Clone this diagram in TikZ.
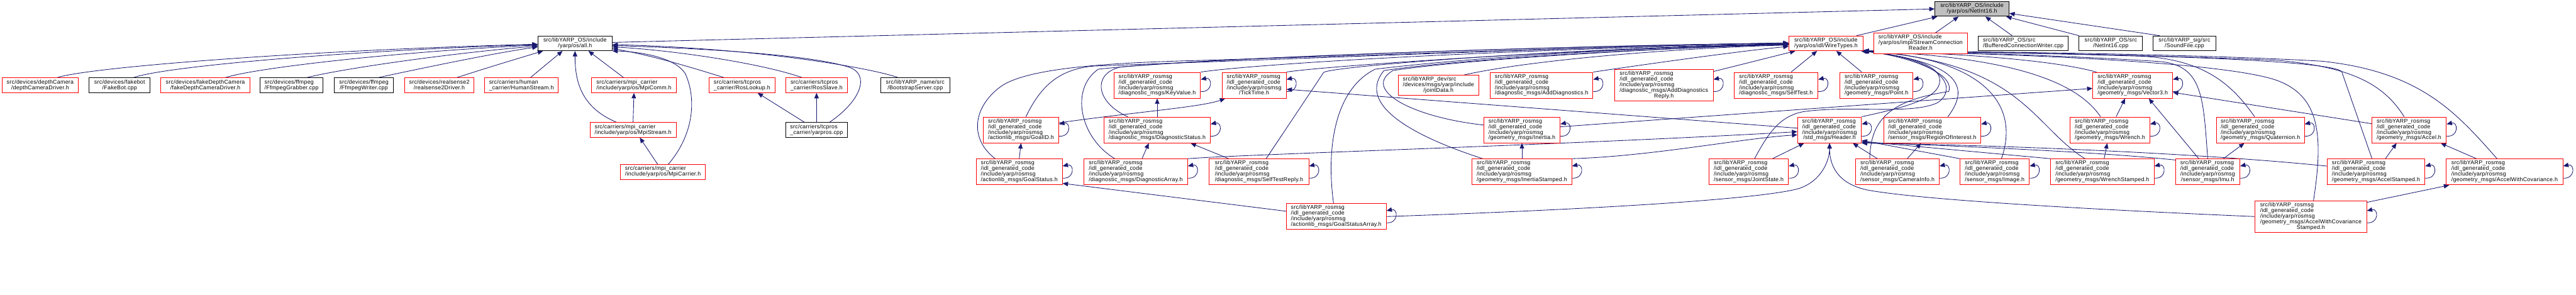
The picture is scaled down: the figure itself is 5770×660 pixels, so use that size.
\documentclass[tikz,border=0pt]{standalone}
\usepackage{fontspec}
\setmainfont{Liberation Sans}[LetterSpace=3]
\usetikzlibrary{arrows.meta, backgrounds}
\definecolor{edgeblue}{HTML}{191970}
\definecolor{nodegray}{HTML}{BFBFBF}
% last line centred, the others flush left
\newcommand{\flines}[2]{\begin{tabular}{@{}l@{}}#1\\\multicolumn{1}{@{}c@{}}{#2}\end{tabular}}
\newcommand{\rosmsg}[1]{\flines{src/libYARP\_rosmsg\\/idl\_generated\_code\\/include/yarp/rosmsg}{#1}}

\begin{document}
\begin{tikzpicture}[x=1pt, y=-1pt,
	redbox/.style={draw=red, line width=1.3pt, fill=white, inner xsep=0pt, inner ysep=4pt, font=\fontsize{12.5}{11.5}\selectfont},
	blackbox/.style={redbox, draw=black},
	graybox/.style={redbox, draw=black, fill=nodegray},
	incl/.style={edgeblue, line width=1.2pt, -{Triangle[length=12pt, width=10pt]}}]
	\useasboundingbox (0,0) rectangle (5770,660);
	
	% Draw the file that is included
	\node[graybox, minimum width=166] (n16h) at (4417,20) {\flines{src/libYARP\_OS/include}{/yarp/os/NetInt16.h}};
	
	% Draw the first row
	\node[blackbox, minimum width=166] (allh) at (1288,97) {\flines{src/libYARP\_OS/include}{/yarp/os/all.h}};
	\node[redbox, minimum width=166] (wire) at (4090,97) {\flines{src/libYARP\_OS/include}{/yarp/os/idl/WireTypes.h}};
	\node[redbox, minimum width=209] (scr) at (4302,97) {\flines{src/libYARP\_OS/include\\/yarp/os/impl/StreamConnection}{Reader.h}};
	\node[blackbox, minimum width=202] (bcw) at (4532,97) {\flines{src/libYARP\_OS/src}{/BufferedConnectionWriter.cpp}};
	\node[blackbox, minimum width=142] (n16cpp) at (4728,97) {\flines{src/libYARP\_OS/src}{/NetInt16.cpp}};
	\node[blackbox, minimum width=140] (sound) at (4893,97) {\flines{src/libYARP\_sig/src}{/SoundFile.cpp}};
	
	% Draw the second row
	\node[redbox, minimum width=171] (depth) at (90,191) {\flines{src/devices/depthCamera}{/depthCameraDriver.h}};
	\node[blackbox, minimum width=137] (fakebot) at (268,191) {\flines{src/devices/fakebot}{/FakeBot.cpp}};
	\node[redbox, minimum width=199] (fakedepth) at (460,191) {\flines{src/devices/fakeDepthCamera}{/fakeDepthCameraDriver.h}};
	\node[blackbox, minimum width=142] (grabber) at (653,191) {\flines{src/devices/ffmpeg}{/FfmpegGrabber.cpp}};
	\node[blackbox, minimum width=133] (writer) at (815,191) {\flines{src/devices/ffmpeg}{/FfmpegWriter.cpp}};
	\node[redbox, minimum width=156] (rs2) at (984,191) {\flines{src/devices/realsense2}{/realsense2Driver.h}};
	\node[redbox, minimum width=165] (human) at (1168,191) {\flines{src/carriers/human}{\_carrier/HumanStream.h}};
	\node[redbox, minimum width=190] (mpicomm) at (1420,191) {\flines{src/carriers/mpi\_carrier}{/include/yarp/os/MpiComm.h}};
	\node[redbox, minimum width=147] (roslookup) at (1662,191) {\flines{src/carriers/tcpros}{\_carrier/RosLookup.h}};
	\node[redbox, minimum width=138] (rosslave) at (1829,191) {\flines{src/carriers/tcpros}{\_carrier/RosSlave.h}};
	\node[blackbox, minimum width=155] (bootstrap) at (2050,191) {\flines{src/libYARP\_name/src}{/BootstrapServer.cpp}};
	\node[redbox, minimum width=194] (keyvalue) at (2592,191) {\rosmsg{/diagnostic\_msgs/KeyValue.h}};
	\node[redbox, minimum width=144] (ticktime) at (2809,191) {\rosmsg{/TickTime.h}};
	\node[redbox, minimum width=181] (jointdata) at (3222,191) {\flines{src/libYARP\_dev/src\\/devices/msgs/yarp/include}{/jointData.h}};
	\node[redbox, minimum width=230] (adddiag) at (3453,191) {\rosmsg{/diagnostic\_msgs/AddDiagnostics.h}};
	\node[redbox, minimum width=221] (adddiagrep) at (3727,191) {\flines{src/libYARP\_rosmsg\\/idl\_generated\_code\\/include/yarp/rosmsg\\/diagnostic\_msgs/AddDiagnostics}{Reply.h}};
	\node[redbox, minimum width=188] (selftest) at (3978,191) {\rosmsg{/diagnostic\_msgs/SelfTest.h}};
	\node[redbox, minimum width=164] (point) at (4203,191) {\rosmsg{/geometry\_msgs/Point.h}};
	\node[redbox, minimum width=179] (vector3) at (4777,191) {\rosmsg{/geometry\_msgs/Vector3.h}};
	
	% Draw the third row
	\node[redbox, minimum width=193] (mpistream) at (1418,291) {\flines{src/carriers/mpi\_carrier}{/include/yarp/os/MpiStream.h}};
	\node[blackbox, minimum width=138] (yarpros) at (1829,291) {\flines{src/carriers/tcpros}{\_carrier/yarpros.cpp}};
	\node[redbox, minimum width=169] (goalid) at (2287,291) {\rosmsg{/actionlib\_msgs/GoalID.h}};
	\node[redbox, minimum width=238] (diagstatus) at (2592,291) {\rosmsg{/diagnostic\_msgs/DiagnosticStatus.h}};
	\node[redbox, minimum width=171] (inertia) at (3409,291) {\rosmsg{/geometry\_msgs/Inertia.h}};
	\node[redbox, minimum width=143] (header) at (4098,291) {\rosmsg{/std\_msgs/Header.h}};
	\node[redbox, minimum width=218] (roi) at (4328,291) {\rosmsg{/sensor\_msgs/RegionOfInterest.h}};
	\node[redbox, minimum width=179] (wrench) at (4726,291) {\rosmsg{/geometry\_msgs/Wrench.h}};
	\node[redbox, minimum width=197] (quat) at (5063,291) {\rosmsg{/geometry\_msgs/Quaternion.h}};
	\node[redbox, minimum width=167] (accel) at (5396,291) {\rosmsg{/geometry\_msgs/Accel.h}};
	
	% Draw the fourth row
	\node[redbox, minimum width=190] (mpicarrier) at (1485,385) {\flines{src/carriers/mpi\_carrier}{/include/yarp/os/MpiCarrier.h}};
	\node[redbox, minimum width=193] (goalstatus) at (2283,385) {\rosmsg{/actionlib\_msgs/GoalStatus.h}};
	\node[redbox, minimum width=232] (diagarray) at (2544,385) {\rosmsg{/diagnostic\_msgs/DiagnosticArray.h}};
	\node[redbox, minimum width=223] (selftestrep) at (2820,385) {\rosmsg{/diagnostic\_msgs/SelfTestReply.h}};
	\node[redbox, minimum width=223] (inertiast) at (3409,385) {\rosmsg{/geometry\_msgs/InertiaStamped.h}};
	\node[redbox, minimum width=178] (jointstate) at (3917,385) {\rosmsg{/sensor\_msgs/JointState.h}};
	\node[redbox, minimum width=187] (camerainfo) at (4250,385) {\rosmsg{/sensor\_msgs/CameraInfo.h}};
	\node[redbox, minimum width=155] (image) at (4468,385) {\rosmsg{/sensor\_msgs/Image.h}};
	\node[redbox, minimum width=232] (wrenchst) at (4709,385) {\rosmsg{/geometry\_msgs/WrenchStamped.h}};
	\node[redbox, minimum width=144] (imu) at (4945,385) {\rosmsg{/sensor\_msgs/Imu.h}};
	\node[redbox, minimum width=219] (accelst) at (5322,385) {\rosmsg{/geometry\_msgs/AccelStamped.h}};
	\node[redbox, minimum width=261] (accelcov) at (5610,385) {\rosmsg{/geometry\_msgs/AccelWithCovariance.h}};
	
	% Draw the last row
	\node[redbox, minimum width=224] (goalarr) at (2993,485) {\rosmsg{/actionlib\_msgs/GoalStatusArray.h}};
	\node[redbox, minimum width=250] (accelcovst) at (5176,485) {\flines{src/libYARP\_rosmsg\\/idl\_generated\_code\\/include/yarp/rosmsg\\/geometry\_msgs/AccelWithCovariance}{Stamped.h}};
	
	\begin{scope}[on background layer]
		% Draw the includes of NetInt16.h
		\draw[incl] ([yshift=2pt]allh.east) -- (n16h.west);
		\draw[incl] ([xshift=-15pt]wire.north east) -- ([xshift=6pt]n16h.south west);
		\draw[incl] ([xshift=33pt]scr.north) -- ([xshift=-30pt]n16h.south);
		\draw[incl] ([xshift=-25pt]bcw.north) -- ([xshift=30pt]n16h.south);
		\draw[incl] (n16cpp.north west) -- ([xshift=-7pt]n16h.south east);
		\draw[incl] ([xshift=15pt]sound.north west) -- ([yshift=-10pt]n16h.east);
		
		% Draw the includes of all.h
		\draw[incl] ([xshift=38pt]depth.north) .. controls (200,150) and (700,112) .. ([yshift=-2pt]allh.west);
		\draw[incl] ([xshift=31pt]fakebot.north) .. controls (370,148) and (800,112) .. ([yshift=-3pt]allh.west);
		\draw[incl] ([xshift=45pt]fakedepth.north) .. controls (570,152) and (900,115) .. ([yshift=-4pt]allh.west);
		\draw[incl] ([xshift=34pt]grabber.north) .. controls (760,155) and (1000,120) .. ([yshift=-6pt]allh.west);
		\draw[incl] ([xshift=32pt]writer.north) .. controls (920,158) and (1100,120) .. ([yshift=-8pt]allh.west);
		\draw[incl] ([xshift=39pt]rs2.north) .. controls (1090,152) and (1170,128) .. ([xshift=12pt]allh.south west);
		\draw[incl] ([xshift=20pt]human.north) -- ([xshift=-28pt]allh.south);
		\draw[incl] ([xshift=-23pt]mpicomm.north) -- ([xshift=30pt]allh.south);
		\draw[incl] ([xshift=-37pt]mpistream.north) .. controls (1300,240) and (1288,180) .. (allh.south);
		\draw[incl] ([xshift=12pt]mpicarrier.north) .. controls (1555,300) and (1560,220) .. (1535,165) .. controls (1510,125) and (1420,115) .. (allh.south east);
		\draw[incl] ([xshift=-40pt]roslookup.north) .. controls (1540,148) and (1450,122) .. ([yshift=-12pt]allh.east);
		\draw[incl] ([xshift=-32pt]rosslave.north) .. controls (1700,140) and (1500,112) .. ([yshift=-8pt]allh.east);
		\draw[incl] ([xshift=29pt]yarpros.north) .. controls (1930,225) and (1950,165) .. (1900,150) .. controls (1800,118) and (1500,106) .. ([yshift=-5pt]allh.east);
		\draw[incl] ([xshift=-38pt]bootstrap.north) .. controls (1950,152) and (1700,108) .. ([yshift=-3pt]allh.east);
		\draw[incl] (mpistream.north) -- (mpicomm.south);
		\draw[incl] ([xshift=-12pt]mpicarrier.north) -- ([xshift=15pt]mpistream.south);
		\draw[incl] ([xshift=-27pt]yarpros.north) -- ([xshift=35pt]roslookup.south);
		\draw[incl] (yarpros.north) -- (rosslave.south);
		
		% Draw the includes of WireTypes.h, from the left
		\draw[incl] ([xshift=11pt]goalid.north) .. controls (2330,195) and (2370,155) .. (2450,148) .. controls (3000,128) and (3700,100) .. ([yshift=1pt]wire.west);
		\draw[incl] ([xshift=-54pt]goalstatus.north) .. controls (2170,310) and (2180,240) .. (2240,195) .. controls (2300,150) and (2500,140) .. (2700,135) .. controls (3200,120) and (3700,100) .. (wire.west);
		\draw[incl] (keyvalue.north east) .. controls (2800,145) and (3300,112) .. ([yshift=-1pt]wire.west);
		\draw[incl] ([xshift=-66pt]diagstatus.north) .. controls (2455,230) and (2445,165) .. (2510,150) .. controls (2800,125) and (3600,100) .. (wire.west);
		\draw[incl] ([xshift=-47pt]diagarray.north) .. controls (2420,310) and (2395,200) .. (2460,155) .. controls (2700,128) and (3600,100) .. (wire.west);
		\draw[incl] (ticktime.north east) .. controls (2950,150) and (3500,110) .. ([yshift=-2pt]wire.west);
		\draw[incl] ([xshift=16pt]selftestrep.north) -- (2965,162) .. controls (2990,148) and (3500,108) .. ([yshift=-2pt]wire.west);
		\draw[incl] ([xshift=-6pt]goalarr.north) .. controls (2970,330) and (2990,200) .. (3080,155) .. controls (3300,128) and (3700,104) .. ([yshift=-3pt]wire.west);
		\draw[incl] ([xshift=58pt]jointdata.north) .. controls (3450,130) and (3800,106) .. ([yshift=-4pt]wire.west);
		\draw[incl] (adddiag.north east) .. controls (3700,142) and (3900,114) .. ([yshift=-7pt]wire.west);
		\draw[incl] ([yshift=-5pt]adddiagrep.north east) -- ([xshift=15pt]wire.south west);
		\draw[incl] ([yshift=11pt]inertia.west) .. controls (3160,262) and (3050,200) .. (3120,158) .. controls (3300,130) and (3800,104) .. ([yshift=-3pt]wire.west);
		\draw[incl] ([xshift=-88pt]inertiast.north) .. controls (3150,300) and (3040,230) .. (3100,158) .. controls (3300,128) and (3800,104) .. ([yshift=-3pt]wire.west);
		\draw[incl] ([xshift=34pt]selftest.north) -- ([xshift=-20pt]wire.south);
		\draw[incl] ([xshift=-33pt]point.north) -- ([xshift=23pt]wire.south);
		
		% Draw the includes of WireTypes.h, from the right
		\draw[incl] (header.north east) .. controls (4270,240) and (4345,220) .. (4345,180) .. controls (4345,140) and (4250,122) .. ([xshift=-4pt]wire.south east);
		\draw[incl] ([xshift=-62pt]camerainfo.north) .. controls (4190,270) and (4230,225) .. (4365,205) .. controls (4380,160) and (4260,124) .. ([xshift=-2pt]wire.south east);
		\draw[incl] ([xshift=13pt]jointstate.north) .. controls (3960,300) and (3985,260) .. (4040,250) .. controls (4150,235) and (4280,258) .. (4340,230) .. controls (4385,200) and (4360,135) .. (wire.south east);
		\draw[incl] ([xshift=35pt]roi.north) .. controls (4410,200) and (4400,140) .. ([xshift=-5pt]wire.south east);
		\draw[incl] ([xshift=15pt]image.north) .. controls (4530,220) and (4420,128) .. ([xshift=-2pt]wire.south east);
		\draw[incl] ([xshift=-39pt]wrenchst.north) .. controls (4550,280) and (4530,140) .. ([xshift=-1pt]wire.south east);
		\draw[incl] ([xshift=-21pt]wrench.north) .. controls (4650,180) and (4500,128) .. (wire.south east);
		\draw[incl] ([xshift=9pt]vector3.north west) .. controls (4600,135) and (4400,120) .. (wire.south east);
		\draw[incl] (imu.north) .. controls (4935,220) and (4935,148) .. (4840,138) .. controls (4600,122) and (4300,116) .. (wire.south east);
		\draw[incl] ([xshift=-13pt]quat.north) .. controls (5000,190) and (4940,135) .. (4800,126) .. controls (4550,118) and (4300,115) .. (wire.south east);
		\draw[incl] ([xshift=6pt]accelcovst.north) .. controls (5205,300) and (5195,215) .. (5100,180) .. controls (4980,138) and (4500,120) .. (wire.south east);
		\draw[incl] ([xshift=-9pt]accelst.north) -- (5245,160) .. controls (5215,135) and (4800,120) .. (wire.south east);
		\draw[incl] ([xshift=-11pt]accel.north) .. controls (5340,190) and (5270,150) .. (5100,135) .. controls (4800,122) and (4400,116) .. (wire.south east);
		\draw[incl] ([xshift=-17pt]accelcov.north) .. controls (5500,250) and (5420,160) .. (5200,137) .. controls (4900,120) and (4400,115) .. (wire.south east);
		
		% Draw the includes of Header.h
		\draw[incl] (goalarr.east) .. controls (3600,468) and (3950,445) .. (4030,422) .. controls (4080,405) and (4098,360) .. (header.south);
		\draw[incl] (accelcovst.west) .. controls (4700,470) and (4300,448) .. (4180,425) .. controls (4115,410) and (4098,370) .. (header.south);
		\draw[incl] (diagarray.north east) .. controls (2800,345) and (3500,325) .. ([yshift=-4pt]header.west);
		\draw[incl] (inertiast.north east) .. controls (3700,350) and (3900,310) .. ([yshift=-11pt]header.west);
		\draw[incl] ([xshift=53pt]jointstate.north) -- ([xshift=-57pt]header.south);
		\draw[incl] ([xshift=-45pt]camerainfo.north) -- ([xshift=52pt]header.south);
		\draw[incl] (image.north west) -- ([yshift=6pt]header.south east);
		\draw[incl] (wrenchst.north west) -- ([yshift=4pt]header.south east);
		\draw[incl] ([yshift=-3pt]imu.north west) .. controls (4700,340) and (4400,328) .. ([yshift=2pt]header.south east);
		\draw[incl] ([yshift=13pt]accelst.west) .. controls (4950,345) and (4500,325) .. (header.south east);
		
		% Draw the other message includes
		\draw[incl] ([yshift=4pt]header.west) -- ([yshift=-9pt]ticktime.east);
		\draw[incl] ([yshift=16pt]goalid.east) .. controls (2550,250) and (2690,240) .. ([xshift=8pt]ticktime.south west);
		\draw[incl] (goalstatus.north) -- (goalid.south);
		\draw[incl] ([yshift=12pt]goalarr.west) -- ([yshift=4pt]goalstatus.south east);
		\draw[incl] (diagstatus.north) -- (keyvalue.south);
		\draw[incl] ([xshift=14pt]diagarray.north) -- ([xshift=-19pt]diagstatus.south);
		\draw[incl] ([xshift=-68pt]selftestrep.north) -- ([xshift=75pt]diagstatus.south);
		\draw[incl] (inertiast.north) -- (inertia.south);
		\draw[incl] ([yshift=7pt]inertia.east) -- ([yshift=-7pt]vector3.west);
		\draw[incl] ([xshift=14pt]wrench.north) -- ([xshift=-17pt]vector3.south);
		\draw[incl] ([xshift=-20pt]imu.north) -- ([xshift=36pt]vector3.south);
		\draw[incl] ([xshift=35pt]imu.north) -- ([xshift=-36pt]quat.south);
		\draw[incl] ([yshift=14pt]accel.west) -- ([yshift=-16pt]vector3.east);
		\draw[incl] ([xshift=21pt]accelst.north) -- ([xshift=-28pt]accel.south);
		\draw[incl] ([xshift=-63pt]accelcov.north) -- ([xshift=71pt]accel.south);
		\draw[incl] ([yshift=-4pt]accelcovst.north east) -- ([xshift=7pt]accelcov.south west);
		\draw[incl] ([xshift=4pt]wrenchst.north) -- ([xshift=-6pt]wrench.south);
		\draw[incl] ([xshift=22pt]camerainfo.north) -- ([xshift=-25pt]roi.south);
		
		% Draw the self loops
		\foreach \nd in {keyvalue,ticktime,adddiag,adddiagrep,selftest,point,vector3,goalid,diagstatus,inertia,header,roi,wrench,quat,accel,goalstatus,diagarray,selftestrep,inertiast,jointstate,camerainfo,image,wrenchst,imu,accelst,accelcov,goalarr,accelcovst}
			\draw[incl] ([yshift=-14pt]\nd.east) .. controls +(28pt,-2pt) and +(26pt,6pt) .. ([yshift=13pt]\nd.east);
	\end{scope}
\end{tikzpicture}
\end{document}
